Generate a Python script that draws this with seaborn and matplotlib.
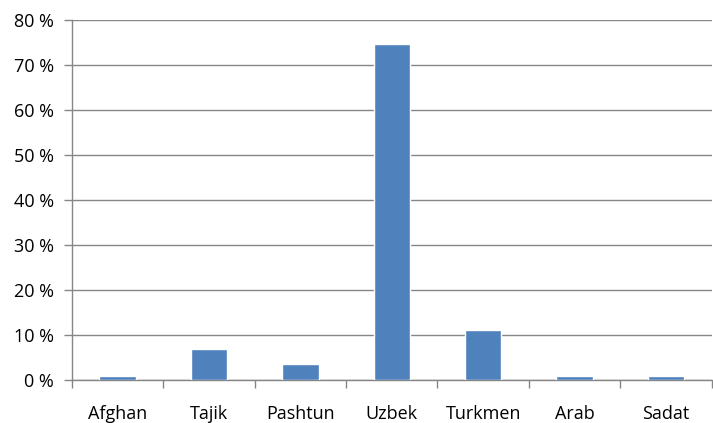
import numpy as np
import pandas as pd
import matplotlib
matplotlib.use("Agg")
import matplotlib.pyplot as plt
from matplotlib.ticker import FuncFormatter
import seaborn as sns

# dados
grupos = ["Afghan", "Tajik", "Pashtun", "Uzbek", "Turkmen", "Arab", "Sadat"]
percentuais = [0.9, 6.8, 3.6, 74.7, 11.2, 0.9, 0.9]

df = pd.DataFrame({"grupo": grupos, "pct": percentuais})

sns.set_style("white")
plt.rcParams["font.family"] = ["Open Sans", "DejaVu Sans"]

cinza = "#868686"
fig = plt.figure(figsize=(7.13, 4.23), dpi=100)
ax = fig.add_axes([0.101, 0.1017, 0.897, 0.851])

sns.barplot(data=df, x="grupo", y="pct", color="#4F81BD", saturation=1,
            width=0.4, ax=ax, zorder=3)

ax.set_ylim(0, 80)
ax.set_xlim(-0.5, len(grupos) - 0.5)
ax.set_yticks(np.arange(0, 81, 10))
ax.yaxis.set_major_formatter(FuncFormatter(lambda v, p: f"{int(v)} %"))
ax.grid(axis="y", color=cinza, linewidth=1, zorder=0)

# marcas do eixo x entre as categorias
ax.set_xticks(np.arange(-0.5, len(grupos), 1), minor=True)
ax.tick_params(axis="x", which="major", length=0, pad=18, labelsize=13,
               labelcolor="black")
ax.tick_params(axis="x", which="minor", length=6, color=cinza, width=1,
               direction="out", bottom=True)
ax.tick_params(axis="y", length=6, color=cinza, width=1, direction="out",
               left=True, pad=7, labelsize=13, labelcolor="black")

for lado in ["top", "right"]:
    ax.spines[lado].set_visible(False)
for lado in ["left", "bottom"]:
    ax.spines[lado].set_color(cinza)
    ax.spines[lado].set_linewidth(1)

ax.set(xlabel="", ylabel="")
fig.savefig("out.png", dpi=100)
